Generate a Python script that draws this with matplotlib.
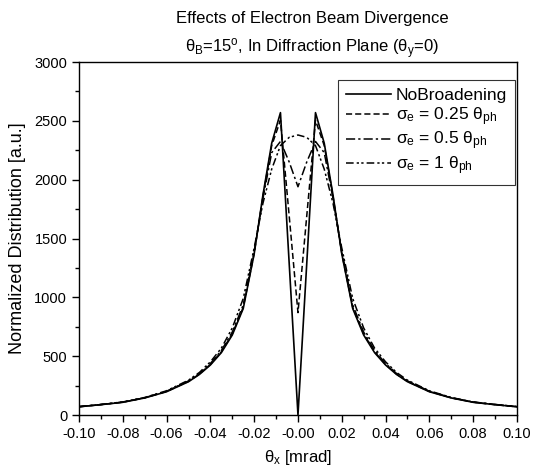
import matplotlib
matplotlib.use("Agg")
import matplotlib.pyplot as plt
from matplotlib.ticker import MultipleLocator, FormatStrFormatter

plt.rcParams['font.family'] = ['Liberation Sans', 'DejaVu Sans']
plt.rcParams['mathtext.fontset'] = 'custom'
plt.rcParams['mathtext.rm'] = 'Liberation Sans'
plt.rcParams['mathtext.it'] = 'Liberation Sans'
plt.rcParams['axes.unicode_minus'] = False

# angle grid (mrad), symmetric
theta_half = [-0.100, -0.090, -0.080, -0.070, -0.060, -0.050, -0.045, -0.040,
              -0.035, -0.030, -0.025, -0.020, -0.016, -0.012, -0.008, -0.004, 0.0]

no_broad_half = [70, 88, 108, 145, 198, 283, 345, 425,
                 530, 680, 905, 1370, 1870, 2310, 2570, 1285, 0]
sig025_half = [70, 88, 109, 146, 200, 286, 348, 430,
               537, 690, 915, 1375, 1860, 2290, 2505, 1690, 870]
sig05_half = [71, 89, 110, 147, 202, 290, 353, 438,
              548, 705, 935, 1390, 1840, 2230, 2325, 2150, 1940]
sig1_half = [72, 90, 111, 149, 206, 296, 362, 452,
             568, 740, 990, 1420, 1800, 2090, 2290, 2360, 2380]

theta = theta_half + [-v for v in theta_half[-2::-1]]
def mirror(h):
    return h + h[-2::-1]
no_broad = mirror(no_broad_half)
sig025 = mirror(sig025_half)
sig05 = mirror(sig05_half)
sig1 = mirror(sig1_half)

fig = plt.figure(figsize=(5.34, 4.70), dpi=100)
ax = fig.add_axes([0.148, 0.117, 0.820, 0.751])

ax.plot(theta, no_broad, color='black', lw=1.2, ls='-', label='NoBroadening')
ax.plot(theta, sig025, color='black', lw=1.1, ls=(0, (4, 2)),
        label=r'$\mathregular{σ_e}$ = 0.25 $\mathregular{θ_{ph}}$')
ax.plot(theta, sig05, color='black', lw=1.1, ls=(0, (6, 2, 1.5, 2)),
        label=r'$\mathregular{σ_e}$ = 0.5 $\mathregular{θ_{ph}}$')
ax.plot(theta, sig1, color='black', lw=1.1, ls=(0, (5, 2, 1.5, 1.5, 1.5, 2)),
        label=r'$\mathregular{σ_e}$ = 1 $\mathregular{θ_{ph}}$')

ax.set_xlim(-0.1, 0.1)
ax.set_ylim(0, 3000)
ax.xaxis.set_major_locator(MultipleLocator(0.02))
ax.xaxis.set_minor_locator(MultipleLocator(0.01))
ax.xaxis.set_major_formatter(FormatStrFormatter('%.2f'))
ax.yaxis.set_major_locator(MultipleLocator(500))
ax.yaxis.set_minor_locator(MultipleLocator(250))
ax.tick_params(which='major', direction='out', length=5, width=1, labelsize=10.5,
               top=False, right=False)
ax.tick_params(which='minor', direction='out', length=3, width=1,
               top=False, right=False)
for s in ax.spines.values():
    s.set_linewidth(1.0)

ax.set_xlabel(r'$\mathregular{θ_x}$ [mrad]', fontsize=12, labelpad=5)
ax.set_ylabel('Normalized Distribution [a.u.]', fontsize=13, labelpad=6)
ttl = ax.set_title('Effects of Electron Beam Divergence\n'
                   r'$\mathregular{θ_B}$=15$\mathregular{^o}$, In Diffraction Plane ($\mathregular{θ_y}$=0)',
                   fontsize=12, linespacing=1.6, pad=7)
ttl.set_x(0.532)

leg = ax.legend(loc='upper right', bbox_to_anchor=(0.996, 0.949), borderaxespad=0,
                fontsize=12.5, frameon=True, fancybox=False, edgecolor='black',
                handlelength=2.6, handletextpad=0.3, labelspacing=0.12,
                borderpad=0.45)
leg.get_frame().set_linewidth(0.8)

fig.savefig('out.png', dpi=100)
